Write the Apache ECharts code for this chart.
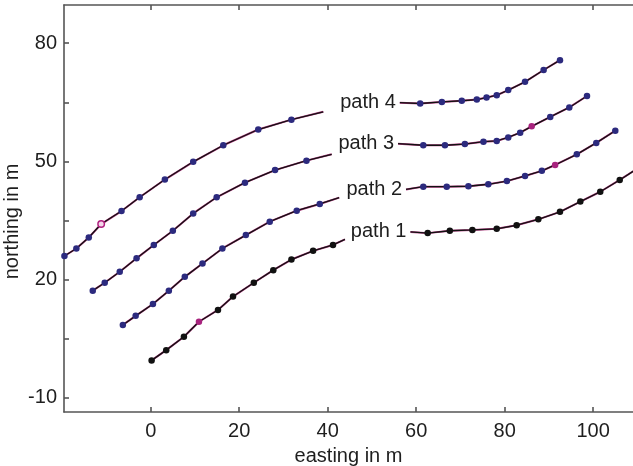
<!DOCTYPE html>
<html>
<head>
<meta charset="utf-8">
<script src="https://cdn.jsdelivr.net/npm/echarts@6/dist/echarts.min.js"></script>
<style>
html,body{margin:0;padding:0;background:#fff;}
#chart{width:633px;height:466px;}
</style>
</head>
<body>
<div id="chart"></div>
<script>
// ---- data (metres) ----
const xTicks = [0, 20, 40, 60, 80, 100];
const yTicks = [-10, 5, 20, 35, 50, 65, 80];
const yLabels = [-10, 20, 50, 80];
const pathNames = ['path 1', 'path 2', 'path 3', 'path 4'];

// first segment of each path (measured dots) and where the line ends
const path1a = [[0.2,-0.5],[3.5,2.1],[7.5,5.5],[10.9,9.3],[15.2,12.3],[18.6,15.7],[23.3,19.2],[27.7,22.4],[31.8,25.1],[36.7,27.3],[41.2,28.8]];
const path1aEnd = [43.9,30.2];
const path2a = [[-6.3,8.5],[-3.4,10.8],[0.5,13.8],[4.1,17.2],[7.7,20.7],[11.7,24.1],[16.2,27.9],[21.5,31.3],[26.9,34.7],[33.0,37.5],[38.2,39.2]];
const path2aEnd = [42.6,40.8];
const path3a = [[-13.1,17.2],[-10.4,19.2],[-7.0,22.0],[-3.2,25.4],[0.7,28.8],[5.0,32.4],[9.6,36.8],[14.9,40.9],[21.3,44.6],[28.1,47.8],[35.2,50.2]];
const path3aEnd = [40.9,51.8];
const path4a = [[-19.5,26.0],[-16.8,27.9],[-14.0,30.7],[-11.2,34.1],[-6.6,37.4],[-2.5,40.9],[3.2,45.4],[9.6,49.9],[16.4,54.1],[24.3,58.1],[31.8,60.6]];
const path4aEnd = [39.0,62.6];

// second segment of each path: where the line starts and the measured dots
const path1bStart = [58.7,32.1];
const path1b = [[62.6,31.8],[67.6,32.4],[72.7,32.6],[78.2,32.9],[82.7,33.8],[87.6,35.3],[92.5,37.2],[97.1,39.8],[101.6,42.3],[106.0,45.3],[110.0,48.2]];
const path2bStart = [57.7,42.9];
const path2b = [[61.6,43.6],[66.9,43.6],[71.8,43.7],[76.3,44.2],[80.5,45.0],[84.6,46.3],[88.4,47.6],[91.4,49.1],[96.3,51.8],[100.7,54.7],[105.0,57.8]];
const path3bStart = [55.9,54.5];
const path3b = [[61.6,54.1],[66.5,54.1],[71.0,54.4],[75.2,55.0],[78.2,55.2],[80.8,56.1],[83.5,57.3],[86.1,58.9],[90.3,61.3],[94.6,63.7],[98.6,66.6]];
const path4bStart = [56.3,64.9];
const path4b = [[60.9,64.7],[65.8,65.1],[70.3,65.4],[73.7,65.7],[75.9,66.2],[78.2,66.8],[80.8,68.1],[84.6,70.2],[88.8,73.2],[92.5,75.7]];

// highlighted (magenta) dots: [segment name, index]
const highlighted = [['path1a',3],['path2b',7],['path3b',7],['path4a',3]];

// ---- build ----
const FONT = 'Liberation Sans, Arial, Helvetica, sans-serif';
const segs = {
  path1a: {dots: path1a, end: path1aEnd, dot: '#111111'},
  path2a: {dots: path2a, end: path2aEnd, dot: '#2c2a7e'},
  path3a: {dots: path3a, end: path3aEnd, dot: '#2c2a7e'},
  path4a: {dots: path4a, end: path4aEnd, dot: '#2c2a7e'},
  path1b: {dots: path1b, start: path1bStart, dot: '#111111', name: pathNames[0]},
  path2b: {dots: path2b, start: path2bStart, dot: '#2c2a7e', name: pathNames[1]},
  path3b: {dots: path3b, start: path3bStart, dot: '#2c2a7e', name: pathNames[2]},
  path4b: {dots: path4b, start: path4bStart, dot: '#2c2a7e', name: pathNames[3]}
};

const series = [];
Object.keys(segs).forEach(function(key){
  const s = segs[key];
  const hi = highlighted.filter(function(h){return h[0]===key;}).map(function(h){return h[1];});
  let data = s.dots.map(function(p, i){
    const item = {value: p};
    if (hi.indexOf(i) >= 0) {
      item.itemStyle = key === 'path4a'
        ? {color: '#f3d6ea', borderColor: '#b0207f', borderWidth: 1.5}
        : {color: '#a8237e'};
    }
    return item;
  });
  if (s.end) data.push({value: s.end, symbolSize: 0});
  if (s.start) data.unshift({value: s.start, symbolSize: 0,
    label: {show: true, position: 'left', distance: 4, formatter: s.name,
            fontSize: 20, color: '#1e1e1e', fontFamily: FONT}});
  const lineData = data.map(function(d){return d.value;});
  series.push({
    type: 'line', data: lineData, symbol: 'none', silent: true, z: 2,
    lineStyle: {color: '#b2387f', width: 2.0}, animation: false
  });
  series.push({
    type: 'line', data: data, symbol: 'circle', symbolSize: 6.5, showAllSymbol: true, z: 3,
    itemStyle: {color: s.dot}, lineStyle: {color: '#121212', width: 1.3}, animation: false
  });
});

const axisLineStyle = {color: '#555555', width: 1.6};
const chart = echarts.init(document.getElementById('chart'), null, {renderer: 'canvas'});
chart.setOption({
  backgroundColor: '#ffffff',
  animation: false,
  grid: {left: 64, right: 0, top: 5, bottom: 54, containLabel: false, outerBoundsMode: 'none'},
  xAxis: [{
    type: 'value', position: 'bottom', min: -19.6, max: 109,
    axisLine: {show: true, onZero: false, lineStyle: axisLineStyle},
    axisTick: {show: true, inside: true, length: 5, customValues: xTicks, lineStyle: axisLineStyle},
    axisLabel: {customValues: xTicks, fontSize: 20, color: '#1e1e1e', fontFamily: FONT, margin: 9},
    splitLine: {show: false},
    name: 'easting in m', nameLocation: 'middle', nameGap: 34, nameMoveOverlap: false,
    nameTextStyle: {fontSize: 20, color: '#1e1e1e', fontFamily: FONT}
  }, {
    type: 'value', position: 'top', min: -19.6, max: 109,
    axisLine: {show: true, onZero: false, lineStyle: axisLineStyle},
    axisTick: {show: true, inside: true, length: 5, customValues: xTicks, lineStyle: axisLineStyle},
    axisLabel: {show: false},
    splitLine: {show: false}
  }],
  yAxis: [{
    type: 'value', min: -13.6, max: 89.7,
    axisLine: {show: true, onZero: false, lineStyle: axisLineStyle},
    axisTick: {show: true, inside: true, length: 5, customValues: yTicks, lineStyle: axisLineStyle},
    axisLabel: {customValues: yLabels, fontSize: 20, color: '#1e1e1e', fontFamily: FONT, margin: 7},
    splitLine: {show: false},
    name: 'northing in m', nameLocation: 'middle', nameGap: 42, nameMoveOverlap: false,
    nameTextStyle: {fontSize: 20, color: '#1e1e1e', fontFamily: FONT, padding: [0, 26, 0, 0]}
  }],
  series: series
});
</script>
</body>
</html>
